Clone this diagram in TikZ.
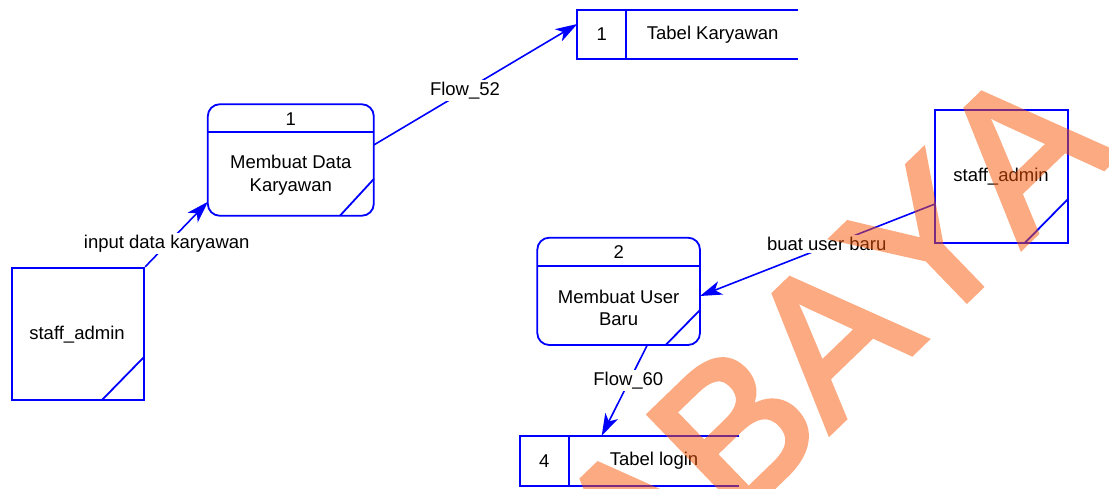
\documentclass[tikz,border=0pt]{standalone}
\usepackage{fontspec}
\setmainfont{Liberation Sans}
\newfontfamily\wmfont[Kerning=Off,FakeBold=3]{Liberation Sans}
\usetikzlibrary{arrows.meta}
\definecolor{dfdblue}{RGB}{0,0,255}
\definecolor{wmorange}{RGB}{247,85,5}
\tikzset{
  lbl/.style={font=\fontsize{18.5}{22.5}\selectfont, text=black, inner sep=0pt, align=center},
  flowlbl/.style={lbl, fill=white, inner sep=2pt},
  shapeline/.style={draw=dfdblue, line width=1.8pt},
  proc/.style={shapeline, rounded corners=12pt, inner sep=0pt},
  ent/.style={shapeline, inner sep=0pt},
  flow/.style={draw=dfdblue, line width=1.6pt, -{Stealth[length=22pt,width=14pt,inset=6pt]}},
}
\begin{document}
\begin{tikzpicture}[x=1pt,y=-1pt]
\useasboundingbox (0,0) rectangle (1109,489);

% ---- process 1
\node[proc, minimum width=166pt, minimum height=111.5pt] (p1) at (290.8,160) {};
\draw[shapeline] (207.8,132.3) -- (373.8,132.3);
\draw[shapeline] (340,215.7) -- (373.8,179);
\node[lbl] (p1n) at (290.8,119) {1};
\node[lbl] (p1t) at (290.8,175) {Membuat Data\\Karyawan};
\coordinate (p1in) at (208,201.7);
\coordinate (p1out) at (373.8,145);

% ---- process 2
\node[proc, minimum width=162.7pt, minimum height=107.3pt] (p2) at (618.65,291.35) {};
\draw[shapeline] (537.3,266) -- (700,266);
\draw[shapeline] (665.7,345) -- (700,310);
\node[lbl] (p2n) at (618.65,252) {2};
\node[lbl] (p2t) at (618.65,308) {Membuat User\\Baru};
\coordinate (p2in) at (700,296);
\coordinate (p2out) at (647.3,345);

% ---- external entity left
\node[ent, minimum width=132.6pt, minimum height=132.6pt] (e1) at (78,334) {};
\draw[shapeline] (101.7,400.3) -- (144.3,356.7);
\node[lbl] (e1t) at (77,335) {staff\_admin};

% ---- external entity right
\node[ent, minimum width=133.3pt, minimum height=132.7pt] (e2) at (1001.65,176.35) {};
\draw[shapeline] (1025,242.7) -- (1068.3,198.7);
\node[lbl] (e2t) at (1001,176.7) {staff\_admin};
\coordinate (e2out) at (935,204);

% ---- data store 1
\draw[shapeline] (798.3,10) -- (577.3,10) -- (577.3,58.7) -- (798.3,58.7);
\draw[shapeline] (626,10) -- (626,58.7);
\node[lbl] (d1n) at (601.7,34.3) {1};
\node[lbl] (d1t) at (712.7,34.3) {Tabel Karyawan};
\coordinate (d1in) at (577.3,24);

% ---- data store 4
\draw[shapeline] (739.3,435.7) -- (520,435.7) -- (520,486) -- (739.3,486);
\draw[shapeline] (568.7,435.7) -- (568.7,486);
\node[lbl] (d4n) at (544.3,461) {4};
\node[lbl] (d4t) at (654,461) {Tabel login};
\coordinate (d4in) at (601.7,435.7);

% ---- flows
\draw[flow] (e1.north east) -- (p1in);
\node[flowlbl] (f1) at (166.7,243.3) {input data karyawan};
\draw[flow] (p1out) -- (d1in);
\node[flowlbl] (f52) at (465,90.7) {Flow\_52};
\draw[flow] (e2out) -- (p2in);
\node[flowlbl] (fb) at (826.7,244) {buat user baru};
\draw[flow] (p2out) -- (d4in);
\node[flowlbl] (f60) at (628.3,380.7) {Flow\_60};

% ---- watermark
\begin{scope}[transparency group, opacity=0.5]
\clip (0,0) rectangle (1109,489);
\node[anchor=base west, inner sep=0pt, rotate=44, text=wmorange,
      font=\wmfont\fontsize{200}{200}\selectfont] (wm) at (637.7,617.7) {ABAYA};
\end{scope}
\end{tikzpicture}
\end{document}
